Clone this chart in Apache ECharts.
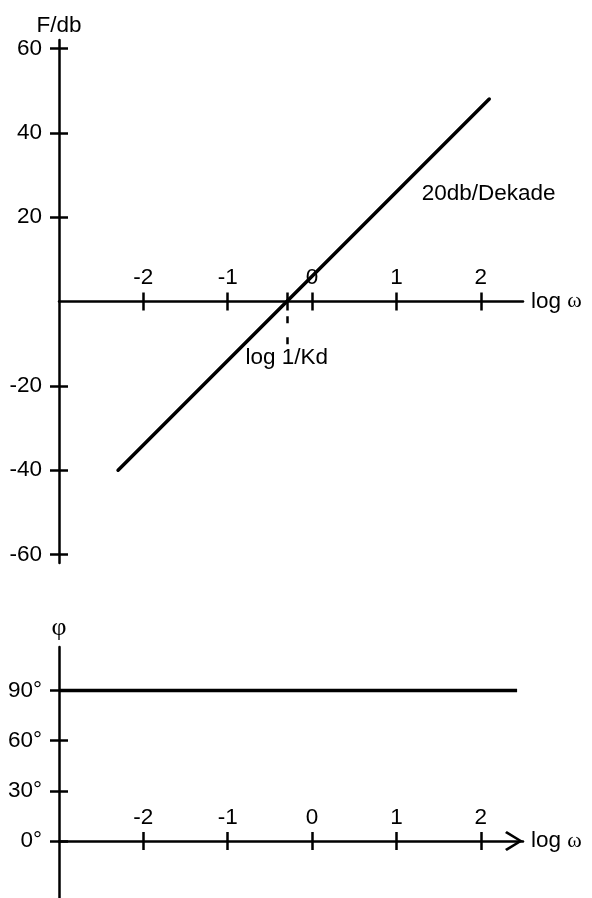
<!DOCTYPE html>
<html><head><meta charset="utf-8">
<script src="https://cdn.jsdelivr.net/npm/echarts@6/dist/echarts.min.js"></script>
<style>html,body{margin:0;padding:0;background:#fff}#c{width:592px;height:898px}</style>
</head><body><div id="c"></div>
<script>
// ---- data ----
const decadeTicks = [-2, -1, 0, 1, 2];          // log ω tick labels
const dbTicks = [-60, -40, -20, 20, 40, 60];     // F/db tick labels
const degTicks = [0, 30, 60, 90];                // φ tick labels
const crossover = -0.3;                          // log 1/Kd
const magLogW = [-2.3, 2.1];                     // magnitude asymptote x
const magDb = [-40, 48];                         // magnitude asymptote y
const phaseLogW = [-3, 2.43];                    // phase x
const phaseDeg = [90, 90];                       // phase y
const kdMarkDb = [-3.5, -10.2];                  // dashed marker below crossover
const slopeLabelAt = [1.3, 25.5];
const kdLabelAt = [-0.3, -13.4];

// ---- style / layout ----
const FONT = '"Liberation Sans", Arial, sans-serif';
const SERIF = '"Liberation Serif", "DejaVu Serif", serif';
const X_MIN = -3, X_MAX = 2.5;
const grids = [
  {left: 59, right: 69, top: 40, height: 523, yMin: -62, yMax: 62},
  {left: 59, right: 69, top: 647, height: 251, yMin: -34, yMax: 116}
];
const ARROW = 'path://M10,0 L20,16.2 L18,18 L10,4.6 L2,18 L0,16.2 Z';
const black = '#000';
const tickStyle = {color: black, width: 2.5};
const labelStyle = {color: black, fontSize: 22.5, fontFamily: FONT};

function xAxes(gi, tickVals, withArrow) {
  const g = grids[gi];
  const off = -g.height * g.yMax / (g.yMax - g.yMin);
  const base = {type: 'value', gridIndex: gi, min: X_MIN, max: X_MAX, position: 'top',
    offset: off, splitLine: {show: false}, silent: true};
  return [
    Object.assign({}, base, {
      axisLine: {show: true, onZero: false, lineStyle: {color: black, width: 2.5},
        symbol: withArrow ? ['none', ARROW] : ['none', 'none'], symbolSize: [20, 18], symbolOffset: [0, -9]},
      axisTick: {show: true, inside: false, length: 9, lineStyle: tickStyle, customValues: tickVals},
      axisLabel: Object.assign({show: true, margin: 12, customValues: decadeTicks}, labelStyle),
      name: 'log {w|ω}', nameLocation: 'end', nameGap: 8, nameMoveOverlap: false,
      nameTextStyle: {color: black, fontSize: 22.5, fontFamily: FONT, align: 'left', verticalAlign: 'middle',
        rich: {w: {fontSize: 22, fontFamily: SERIF, color: black}}}
    }),
    Object.assign({}, base, {
      axisLine: {show: false, onZero: false},
      axisTick: {show: true, inside: true, length: 9, lineStyle: tickStyle, customValues: tickVals},
      axisLabel: {show: false}
    })
  ];
}

function yAxes(gi, vals, fmt, name, nameStyle, nameGap) {
  const g = grids[gi];
  const base = {type: 'value', gridIndex: gi, min: g.yMin, max: g.yMax, position: 'left',
    splitLine: {show: false}, silent: true};
  return [
    Object.assign({}, base, {
      axisLine: {show: true, onZero: false, lineStyle: {color: black, width: 2.5}},
      axisTick: {show: true, inside: false, length: 9, lineStyle: tickStyle, customValues: vals},
      axisLabel: Object.assign({show: true, margin: 17, formatter: fmt, customValues: vals}, labelStyle),
      name: name, nameLocation: 'end', nameGap: nameGap, nameMoveOverlap: false,
      nameTextStyle: nameStyle
    }),
    Object.assign({}, base, {
      axisLine: {show: false, onZero: false},
      axisTick: {show: true, inside: true, length: 9, lineStyle: tickStyle, customValues: vals},
      axisLabel: {show: false}
    })
  ];
}

const magData = magLogW.map((x, i) => [x, magDb[i]]);
const phaseData = phaseLogW.map((x, i) => [x, phaseDeg[i]]);

const option = {
  animation: false,
  backgroundColor: '#fff',
  grid: grids.map(g => ({left: g.left, right: g.right, top: g.top, height: g.height,
    containLabel: false, outerBoundsMode: 'none'})),
  xAxis: [].concat(
    xAxes(0, [-2, -1, crossover, 0, 1, 2], false),
    xAxes(1, decadeTicks, true)
  ),
  yAxis: [].concat(
    yAxes(0, dbTicks, '{value}', 'F/db', {color: black, fontSize: 22.5, fontFamily: FONT}, 3),
    yAxes(1, degTicks, '{value}°', 'φ', {color: black, fontSize: 26, fontFamily: SERIF}, 6)
  ),
  series: [
    {
      type: 'line', xAxisIndex: 0, yAxisIndex: 0, data: magData, showSymbol: false, silent: true,
      lineStyle: {color: black, width: 3.5, cap: 'round'},
      markLine: {
        silent: true, symbol: ['none', 'none'], label: {show: false},
        lineStyle: {color: black, width: 2.5, type: [7, 14]},
        data: [[{coord: [crossover, kdMarkDb[0]]}, {coord: [crossover, kdMarkDb[1]]}]]
      },
      markPoint: {
        silent: true, symbol: 'circle', symbolSize: 0,
        data: [
          {coord: slopeLabelAt, label: {show: true, position: 'right', distance: 0, formatter: '20db/Dekade',
            color: black, fontSize: 22.5, fontFamily: FONT, textBorderWidth: 0}},
          {coord: kdLabelAt, label: {show: true, position: 'inside', formatter: 'log 1/Kd',
            color: black, fontSize: 22.5, fontFamily: FONT, textBorderWidth: 0}}
        ]
      }
    },
    {
      type: 'line', xAxisIndex: 2, yAxisIndex: 2, data: phaseData, showSymbol: false, silent: true,
      lineStyle: {color: black, width: 3.5, cap: 'butt'}
    }
  ]
};

const chart = echarts.init(document.getElementById('c'), null, {renderer: 'canvas'});
chart.setOption(option);
</script>
</body></html>
